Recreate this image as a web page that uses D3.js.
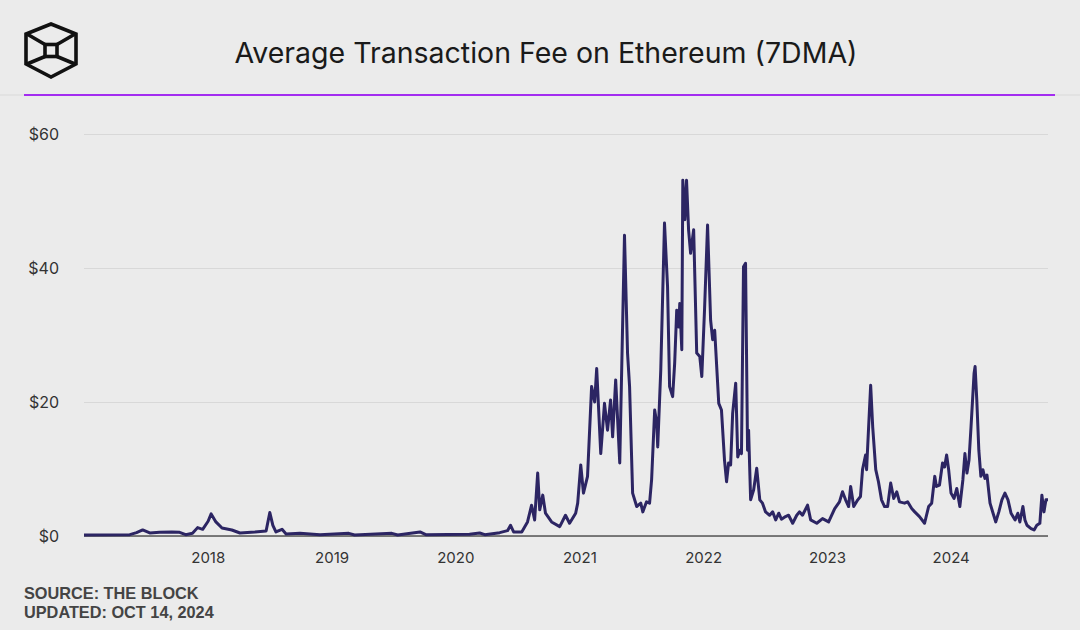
<!DOCTYPE html>
<html>
<head>
<meta charset="utf-8">
<script src="https://cdn.jsdelivr.net/npm/d3@7"></script>
<style>
  html, body { margin: 0; padding: 0; background: #ebebeb; }
  svg { display: block; font-family: Inter, "Noto Sans", sans-serif; }
</style>
</head>
<body>
<svg id="chart" width="1080" height="630"></svg>
<script>
// average fee in USD, 7 day moving average
const dates = [
  "2017-01-01","2017-05-16","2017-06-05","2017-06-23","2017-07-14","2017-08-12","2017-09-17","2017-10-10","2017-10-28","2017-11-17",
  "2017-12-02","2017-12-17","2018-01-02","2018-01-11","2018-01-25","2018-02-12","2018-03-13","2018-04-06","2018-05-20","2018-06-22",
  "2018-07-03","2018-07-12","2018-07-21","2018-08-08","2018-08-20","2018-09-30","2018-11-28","2019-02-21","2019-03-10","2019-06-28",
  "2019-07-15","2019-09-19","2019-10-06","2020-02-12","2020-03-13","2020-03-28","2020-05-11","2020-06-03","2020-06-12","2020-06-21",
  "2020-07-15","2020-08-01","2020-08-13","2020-08-22","2020-08-31","2020-09-06","2020-09-15","2020-09-23","2020-10-11","2020-11-04",
  "2020-11-21","2020-12-03","2020-12-21","2020-12-27","2021-01-05","2021-01-13","2021-01-25","2021-02-06","2021-02-15","2021-02-21",
  "2021-03-05","2021-03-16","2021-03-25","2021-04-03","2021-04-09","2021-04-18","2021-04-30","2021-05-14","2021-05-23","2021-05-29",
  "2021-06-07","2021-06-19","2021-07-01","2021-07-07","2021-07-18","2021-07-27","2021-08-02","2021-08-11","2021-08-17","2021-08-20",
  "2021-08-29","2021-09-09","2021-09-18","2021-09-24","2021-10-03","2021-10-09","2021-10-15","2021-10-21","2021-10-24","2021-10-30",
  "2021-11-02","2021-11-08","2021-11-13","2021-11-19","2021-11-25","2021-12-04","2021-12-13","2021-12-22","2021-12-28","2022-01-05",
  "2022-01-14","2022-01-23","2022-01-29","2022-02-04","2022-02-16","2022-02-24","2022-03-05","2022-03-11","2022-03-17","2022-03-23",
  "2022-03-29","2022-04-07","2022-04-13","2022-04-19","2022-04-24","2022-04-30","2022-05-06","2022-05-12","2022-05-15","2022-05-21",
  "2022-05-30","2022-06-08","2022-06-17","2022-06-25","2022-07-04","2022-07-16","2022-07-25","2022-08-03","2022-08-12","2022-08-20",
  "2022-09-01","2022-09-10","2022-09-22","2022-10-04","2022-10-12","2022-10-21","2022-11-05","2022-11-14","2022-12-02","2022-12-19",
  "2023-01-06","2023-01-24","2023-02-07","2023-02-16","2023-02-25","2023-03-06","2023-03-12","2023-03-21","2023-04-02","2023-04-10",
  "2023-04-16","2023-04-25","2023-04-28","2023-05-04","2023-05-10","2023-05-16","2023-05-25","2023-06-02","2023-06-11","2023-06-20",
  "2023-06-29","2023-07-08","2023-07-17","2023-07-26","2023-08-03","2023-08-18","2023-08-27","2023-09-08","2023-09-17","2023-10-01",
  "2023-10-16","2023-10-28","2023-11-06","2023-11-15","2023-11-20","2023-11-29","2023-12-08","2023-12-14","2023-12-20","2023-12-26",
  "2024-01-02","2024-01-11","2024-01-19","2024-01-28","2024-02-06","2024-02-12","2024-02-18","2024-02-24","2024-03-01","2024-03-10",
  "2024-03-13","2024-03-18","2024-03-24","2024-03-30","2024-04-05","2024-04-11","2024-04-17","2024-04-26","2024-05-05","2024-05-13",
  "2024-05-22","2024-05-31","2024-06-09","2024-06-18","2024-06-27","2024-07-09","2024-07-17","2024-07-23","2024-08-01","2024-08-07",
  "2024-08-13","2024-08-25","2024-09-03","2024-09-11","2024-09-20","2024-09-26","2024-10-02","2024-10-08","2024-10-14"
];
const fees = [
  0.15,0.2,0.5,0.9,0.45,0.55,0.6,0.55,0.2,0.4,
  1.25,1.0,2.2,3.3,2.1,1.2,0.9,0.45,0.6,0.75,
  3.5,1.6,0.6,1.0,0.3,0.4,0.2,0.4,0.15,0.4,
  0.15,0.6,0.2,0.25,0.45,0.2,0.5,0.8,1.6,0.6,
  0.6,2.1,4.6,2.4,9.4,3.9,6.1,3.4,2.1,1.4,
  3.1,1.9,3.4,4.9,10.6,6.4,8.9,22.3,20.0,25.0,
  12.3,19.8,15.8,20.3,14.8,23.3,10.9,44.9,27.3,22.3,
  6.4,4.4,4.9,3.6,5.1,4.9,8.4,18.8,16.9,13.3,
  24.8,46.7,37.2,22.3,20.8,25.8,33.7,31.2,34.7,27.8,
  53.1,47.2,53.1,45.7,42.2,45.7,27.3,26.8,23.8,33.7,
  46.4,32.2,29.3,30.7,19.8,18.8,11.3,8.1,10.9,10.6,
  18.3,22.8,11.8,12.8,12.3,40.2,40.7,12.8,15.8,5.4,
  6.9,10.1,5.4,4.9,3.6,3.1,3.6,2.4,3.4,2.5,
  2.9,3.1,1.9,3.1,3.6,3.1,4.6,2.4,1.9,2.6,
  2.1,4.1,5.1,6.6,5.4,4.4,7.4,4.4,5.4,5.9,
  9.9,12.1,9.9,16.3,22.5,16.3,9.9,8.1,5.4,4.4,
  4.4,7.9,5.6,6.6,5.1,4.9,5.1,4.1,3.6,2.9,
  1.9,4.4,4.9,8.9,7.4,7.6,10.9,10.3,12.1,9.9,
  6.4,5.6,7.1,4.4,8.4,12.3,9.4,11.3,16.3,24.3,
  25.3,20.3,12.8,8.9,9.9,8.6,9.1,4.9,3.4,2.1,
  3.6,5.4,6.4,5.4,3.4,2.4,3.4,2.1,4.4,2.4,
  1.6,1.1,0.9,1.6,1.9,6.1,3.6,5.4,5.4
];
const yTicks = [0, 20, 40, 60];
const xTickYears = [2018, 2019, 2020, 2021, 2022, 2023, 2024];

const parse = d3.timeParse("%Y-%m-%d");
const data = dates.map((d, i) => ({ date: parse(d), fee: fees[i] }));

const svg = d3.select("#chart");
const plotL = 84, plotR = 1048, plotT = 134, plotB = 536;

const x = d3.scaleTime()
  .domain([parse("2017-01-01"), parse("2024-10-14")])
  .range([plotL, plotR]);
const y = d3.scaleLinear().domain([0, 60]).range([plotB, plotT]);

// header: logo
const logo = svg.append("g")
  .attr("fill", "none")
  .attr("stroke", "#111")
  .attr("stroke-width", 3.6)
  .attr("stroke-linejoin", "miter");
logo.append("path").attr("d", "M51,24 L76,34 L76,64 L51,77 L26,64 L26,34 Z");
logo.append("rect").attr("x", 45).attr("y", 44.5).attr("width", 12).attr("height", 12);
logo.append("path").attr("d", "M27,34 L45,44.5 M75,34 L57,44.5 M27,64 L45,56.5 M75,64 L57,56.5");

svg.append("text")
  .attr("x", 546).attr("y", 63)
  .attr("text-anchor", "middle")
  .attr("font-size", 28.5)
  .attr("fill", "#1a1a1a")
  .text("Average Transaction Fee on Ethereum (7DMA)");

svg.append("line")
  .attr("x1", 0).attr("x2", 1080).attr("y1", 95).attr("y2", 95)
  .attr("stroke", "#d9d9d9").attr("stroke-width", 1);
svg.append("line")
  .attr("x1", 24).attr("x2", 1055).attr("y1", 95).attr("y2", 95)
  .attr("stroke", "#a32cf0").attr("stroke-width", 2);

// y axis + grid
const yAxis = svg.append("g")
  .attr("transform", `translate(${plotL},0)`)
  .call(d3.axisLeft(y).tickValues(yTicks).tickSize(-(plotR - plotL)).tickFormat(d => "$" + d).tickPadding(25));
yAxis.select(".domain").remove();
yAxis.selectAll(".tick line").attr("stroke", "#d8d8d8").attr("stroke-width", 1);
yAxis.selectAll(".tick text")
  .attr("font-size", 16).attr("fill", "#333")
  .attr("font-family", "Inter, 'Noto Sans', sans-serif");

// x axis
const xAxis = svg.append("g")
  .attr("transform", `translate(0,${plotB})`)
  .call(d3.axisBottom(x).tickValues(xTickYears.map(yr => new Date(yr, 0, 1))).tickSize(0).tickPadding(16).tickFormat(d3.timeFormat("%Y")));
xAxis.select(".domain").remove();
xAxis.selectAll(".tick text")
  .attr("font-size", 15).attr("fill", "#333")
  .attr("font-family", "Inter, 'Noto Sans', sans-serif");

svg.append("line")
  .attr("x1", plotL).attr("x2", plotR).attr("y1", plotB).attr("y2", plotB)
  .attr("stroke", "#555").attr("stroke-width", 1.5);

// the line
svg.append("path")
  .datum(data)
  .attr("fill", "none")
  .attr("stroke", "#2c2563")
  .attr("stroke-width", 3)
  .attr("stroke-linejoin", "round")
  .attr("d", d3.line().x(d => x(d.date)).y(d => y(d.fee)));

// footer
const foot = svg.append("g")
  .attr("font-family", "Arial, 'Liberation Sans', sans-serif")
  .attr("font-weight", "bold")
  .attr("font-size", 16.3)
  .attr("fill", "#444");
foot.append("text").attr("x", 24).attr("y", 599).text("SOURCE: THE BLOCK");
foot.append("text").attr("x", 24).attr("y", 618).text("UPDATED: OCT 14, 2024");
</script>
</body>
</html>
